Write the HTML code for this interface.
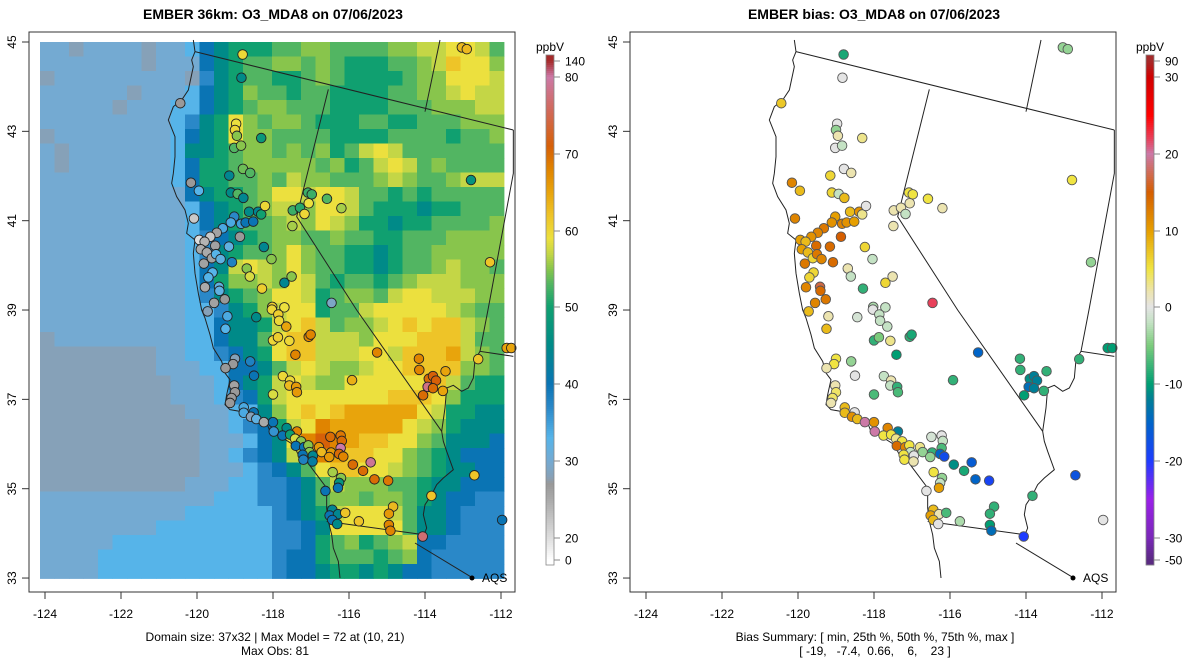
<!DOCTYPE html>
<html><head><meta charset="utf-8"><style>
html,body{margin:0;padding:0;background:#fff;}
svg{display:block;font-family:"Liberation Sans",Arial,sans-serif;}
</style></head><body>
<svg id="chart" width="1200" height="672" viewBox="0 0 1200 672" xmlns="http://www.w3.org/2000/svg">
<rect width="1200" height="672" fill="#fff"/>
<g id="left-grid"></g>
<g id="left-lines" transform="translate(38,40) scale(0.333333)" fill="none" stroke="#222"></g>
<g id="right-lines" transform="translate(639,40) scale(0.333333)" fill="none" stroke="#222"></g>
<g id="left-pts"></g>
<g id="right-pts"></g>
<g id="axes"></g>
<text x="273" y="19" text-anchor="middle" font-size="14" font-weight="bold">EMBER 36km: O3_MDA8 on 07/06/2023</text>
<text x="874" y="19" text-anchor="middle" font-size="14" font-weight="bold">EMBER bias: O3_MDA8 on 07/06/2023</text>
<text x="275" y="641" text-anchor="middle" font-size="12">Domain size: 37x32 | Max Model = 72 at (10, 21)</text>
<text x="275" y="655" text-anchor="middle" font-size="12">Max Obs: 81</text>
<text x="875" y="641" text-anchor="middle" font-size="12">Bias Summary: [ min, 25th %, 50th %, 75th %, max ]</text>
<text x="875" y="655" text-anchor="middle" font-size="12" xml:space="preserve">[ -19,   -7.4,  0.66,    6,    23 ]</text>
</svg>
<script>
const NS="http://www.w3.org/2000/svg";
// ---- data ----
const levelKeys="abcdefghijklmno";
const levelVals=[28,30,33,37,40,45,50,53,55,57,59,62,65,68,71];
const gridRows=[
"bbabbbbabbcefggghhiihhhhiijjkkjh",
"bbbbbbbabbbefghhiihihggghhijlkki",
"abbbbbbbbbadfghhgghihgggghiikkkj",
"bbbbbbabbbcefgihhghhgggghhiijkjj",
"bbbbbabbbccefghiihhhgggghhhiiijj",
"bbbbbbbbbcdfgkihiihggghhgghhhiii",
"abbbbbbbbcefgkiihhhhgggghhhhghhi",
"babbbbbbbcffghiihihighjkjhhhhhhh",
"babbbbbbbcegghiiiiihighjkjhihhhh",
"bbbbbbbbbcegghhihjiihhhijihhijjj",
"bbbbbbbbbbefgghikkjkkjhhghghhhhh",
"bbbbbbbbbbcefghijjikkjhgggfgghhh",
"bbbbbbbbbbcefghhijikjiggfgghhhhi",
"bbbbbbbbbbcdefghiihhihhgghhhiiii",
"bbbbbbbbbbcdfghhikihhggfghhiiiii",
"bbbbbbbbbbcefjkjikihhggfghhijiih",
"bbbbbbbbbbcegiijikjhghhghijjjiii",
"bbbbbbbbbbcdfghikkjghiihjkkjjjii",
"bbbbbbbbbbccdfgijkkghhjkkkkkjihh",
"bbbbbbbbbbcceffgjkljhiijklklljih",
"abbbbbbbbbcceffhklljjjikkkllljhh",
"aaaaaaaabbccdefgklljjjkkjlllmjih",
"aaaaaaaabbbcceefhjkjiijkklllliih",
"aaaaaaaaabbbcefgjkjiikkkkkkljhgg",
"aaaaaaaaabbbcdegjkkkkkkklllkiggg",
"aaaaaaaaaabbbccfiklklmmmmmkjggff",
"aaaaaaaaaaabbcdegjknmmmmmkjigfff",
"aaaaaaaaaaabbbcefknonmllkkihfffe",
"aaaaaaaaaaabbcdefjmnmllkkihgfeee",
"aaaaaaaaaaabbbcdefhkllkkjihgffee",
"aaaaaaaaaabbbccddefhjiiihhgffeee",
"bbbbbbbbbbbbcccddefhiihiihgfeedd",
"bbbbbbbbbbccccccdefgjkkkjhffeddd",
"bbbbbbbbccccccccddefkkkkkhffeddd",
"bbbbbcccccccccccddeghighijeedddd",
"bbbbccccccccccccdeeghhhghieddddd",
"bbbbccccccccccccdeefggfgfeeddddd"
];
const ptLon=[-118.80,-118.83,-120.44,-118.97,-119.00,-118.95,-119.02,-118.84,-118.31,-119.15,-118.79,-118.60,-120.16,-119.95,-119.11,-118.93,-118.78,-120.08,-119.02,-119.11,-118.84,-118.72,-118.52,-118.63,-118.39,-118.31,-118.21,-119.32,-119.48,-119.65,-119.94,-119.80,-119.52,-119.16,-118.87,-119.90,-119.74,-119.61,-119.50,-119.38,-119.82,-119.08,-119.59,-119.70,-119.79,-119.42,-119.41,-119.27,-119.55,-118.24,-118.04,-118.69,-118.61,-118.29,-117.70,-117.51,-118.02,-117.70,-116.46,-117.48,-117.29,-117.17,-117.49,-117.08,-116.98,-117.06,-116.58,-116.20,-112.79,-112.29,-113.03,-112.90,
-119.72,-119.20,-118.44,-118.03,-117.86,-117.84,-117.65,-119.25,-118.00,-117.87,-117.57,-117.06,-117.01,-117.41,-115.26,-119.00,-119.05,-119.25,-118.60,-118.50,-117.74,-117.55,-117.57,-117.39,-117.37,-118.00,-115.92,-119.02,-119.00,-119.09,-119.13,-118.77,-118.77,-118.51,-118.58,-118.44,-118.24,-118.00,-117.98,-117.64,-117.37,-117.75,-117.55,-117.42,-117.26,-117.40,-117.18,-117.07,-117.04,-117.22,-116.95,-117.20,-116.96,-116.79,-116.72,-116.49,-116.22,-116.19,-116.22,-116.47,-116.52,-116.26,-116.15,-115.90,-115.43,-115.63,-115.33,-114.97,-116.43,-116.21,-116.26,-116.29,-116.62,-116.44,-116.51,-116.29,-116.44,-116.31,-116.10,-115.74,-114.84,-114.95,-114.95,-114.91,-114.06,-113.83,-112.70,-111.97,-114.16,-114.15,-113.46,-113.90,-113.79,-113.71,-113.93,-113.79,-113.53,-114.05,-112.60,-111.85,-111.73];
const ptLat=[44.72,44.20,43.63,43.17,43.03,42.90,42.63,42.68,42.85,42.01,42.16,42.07,41.85,41.67,41.63,41.60,41.51,41.05,41.09,40.96,40.93,40.96,40.98,41.20,41.20,41.14,41.33,40.83,40.73,40.64,40.57,40.53,40.44,40.42,40.64,40.36,40.29,40.16,40.25,40.14,40.04,40.07,39.84,39.73,39.51,39.52,39.43,39.24,39.16,40.41,40.14,39.93,39.75,39.48,39.61,39.75,39.07,39.06,39.16,41.23,41.29,41.15,40.88,41.63,41.59,41.39,41.49,41.28,41.91,40.07,44.88,44.84,
38.97,38.86,38.84,39.01,38.90,38.76,38.63,38.58,38.32,38.39,38.31,38.40,38.45,38.00,38.05,37.91,37.79,37.70,37.85,37.53,37.52,37.42,37.31,37.28,37.16,37.11,37.43,37.31,37.16,37.03,36.92,36.82,36.70,36.71,36.61,36.56,36.49,36.49,36.28,36.36,36.28,36.19,36.21,36.12,36.06,35.96,35.93,35.97,35.82,35.76,35.74,35.65,35.61,35.93,35.82,36.16,36.19,36.07,35.91,35.81,35.71,35.78,35.72,35.54,35.59,35.40,35.21,35.18,35.37,35.24,35.13,35.02,34.95,34.53,34.40,34.43,34.30,34.21,34.46,34.27,34.60,34.44,34.19,34.06,33.93,34.84,35.30,34.30,37.91,37.66,37.63,37.46,37.52,37.42,37.28,37.25,37.19,37.09,37.90,38.15,38.15];
const ptObs=[60,45,27,59,60,55,53,55,48,44,54,53,27,33,45,53,44,22,37,34,35,40,40,45,44,50,60,34,26,22,20,24,26,32,27,25,25,26,33,32,26,38,33,33,25,32,32,27,26,44,55,55,58,61,44,55,61,59,29,52,51,60,56,52,52,59,53,56,47,62,63,63,
28,34,45,60,61,60,65,33,60,61,60,68,68,68,68,28,27,27,38,40,60,60,63,66,66,58,64,26,27,27,27,34,34,40,28,32,25,40,36,45,68,40,50,58,55,40,40,55,55,40,44,38,42,66,63,70,69,70,80,66,66,70,68,70,79,70,70,69,56,55,47,40,40,44,40,44,40,45,62,62,63,66,68,68,77,62,62,40,68,68,65,70,71,71,78,70,65,70,62,65,65];
const ptBias=[-9,0,7,0,-4,2,0,-2,3,6,0,2,12,8,6,-2,8,12,10,11,12,11,10,8,11,3,0,13,12,11,10,8,14,14,15,10,8,6,13,12,13,14,6,6,12,17,14,13,12,6,-2,2,-2,-8,6,2,-3,-2,22,2,2,-2,2,5,5,2,5,2,5,-4,-4,-4,
8,2,-1,0,-2,-2,-2,8,-8,-5,3,-8,-9,-10,-15,5,5,2,-4,0,-2,2,-2,-8,-7,-7,-8,2,4,4,2,8,8,0,11,8,20,11,20,12,-12,5,5,3,5,14,12,5,-2,5,0,5,2,3,-4,-1,0,-2,-7,-8,-4,-15,-18,-11,-16,-9,-15,-19,5,-4,-2,10,0,8,10,2,8,0,-7,-3,-8,-8,-10,-14,-20,-8,-17,0,-8,-8,-8,-11,-12,-12,-14,-12,-8,-10,-8,-10,-10];
const latTicks=[45,43,41,39,37,35,33];
const lonTicks=[-124,-122,-120,-118,-116,-114,-112];
const obsBarVals=[0,20,30,40,50,60,70,80,140];
const obsBarLabels=["0","20","30","40","50","60","70","80","140"];
const biasBarVals=[-50,-30,-20,-10,0,10,20,30,90];
const biasBarLabels=["-50","-30","-20","-10","0","10","20","30","90"];
// ---- colour maps ----
const obsStops=[[0,'#ffffff'],[20,'#dedede'],[25,'#aaaaaa'],[27,'#999999'],[28,'#86a1b8'],[30,'#74aad2'],[33,'#56b4e9'],[37,'#2a88c8'],[40,'#0a74b4'],[45,'#008a88'],[50,'#10a070'],[53,'#52b562'],[55,'#88c54c'],[57,'#c4d646'],[59,'#ece03e'],[62,'#eec428'],[65,'#e8a40c'],[68,'#e08400'],[71,'#d66008'],[76,'#d06a60'],[80,'#cc79a7'],[140,'#a52a2a']];
const biasStops=[[-50,'#5a2a82'],[-30,'#7a28b8'],[-25,'#9a20e8'],[-20,'#1e3cff'],[-15,'#0064c8'],[-12,'#007e96'],[-10,'#009e73'],[-5,'#7ccc7c'],[-2,'#c4e2c4'],[0,'#e4e4e4'],[2,'#ece4b0'],[5,'#f0e442'],[10,'#e69f00'],[15,'#d55e00'],[20,'#cc79a7'],[22,'#e8405a'],[25,'#ff0000'],[30,'#d00000'],[90,'#a52a2a']];
function hex(c){return [parseInt(c.slice(1,3),16),parseInt(c.slice(3,5),16),parseInt(c.slice(5,7),16)];}
function cmap(stops,v){
  if(v<=stops[0][0])return stops[0][1];
  for(let i=1;i<stops.length;i++){if(v<=stops[i][0]){const a=hex(stops[i-1][1]),b=hex(stops[i][1]);const t=(v-stops[i-1][0])/(stops[i][0]-stops[i-1][0]);return 'rgb('+a.map((x,k)=>Math.round(x+(b[k]-x)*t)).join(',')+')';}}
  return stops[stops.length-1][1];
}
// ---- scales ----
const RIGHT_OFF=601;
function px(lon,off){return off+45+(lon+124)*38;}
function py(lat){return 42+(45-lat)*44.67;}
function gx(c){return 40+c*14.5;}
function gy(r){return 42+r*14.5;}
const barYKnots=[560,538,461,384,307,231,154,77,61];
function barY(i){return barYKnots[i];}
function mk(tag,attrs,parent){const e=document.createElementNS(NS,tag);for(const k in attrs)e.setAttribute(k,attrs[k]);parent.appendChild(e);return e;}
// ---- heatmap ----
const G=document.getElementById('left-grid');
gridRows.forEach((row,r)=>{
  const s=row.replace(/ /g,'');
  for(let c=0;c<32&&c<s.length;c++){
    const v=levelVals[levelKeys.indexOf(s[c])];
    const e=mk('rect',{x:gx(c),y:gy(r),width:14.9,height:14.9,fill:cmap(obsStops,v)},G);
    
    
  }
});
// ---- borders (geometry in zoom frame) ----
const coast="M466,0 L471,35 L461,60 L466,80 L451,150 L431,180 L406,200 L391,240 L411,290 L411,350 L406,400 L401,430 L416,470 L441,510 L451,550 L446,580 L471,600 L466,640 L471,700 L481,760 L491,810 L501,834 L516,884 L526,924 L551,964 L561,999 L576,1019 L566,1064 L561,1094 L576,1109 L606,1114 L646,1134 L686,1149 L696,1174 L726,1189 L766,1214 L781,1244 L806,1264 L836,1304 L866,1344 L866,1404 L871,1444 L881,1484 L886,1524 L901,1564 L906,1614";
const borders=["M471,35 L1426,270","M1206,0 L1161,215","M871,148 L776,530 L956,810 L1211,1174","M1211,1174 L1216,1204 L1226,1234 L1246,1289 L1216,1314 L1196,1334 L1181,1364 L1161,1394 L1156,1424 L1166,1464 L1156,1489","M866,1444 L1156,1484","M1131,1509 L1301,1612","M1426,270 L1426,400 L1351,804 L1326,934 L1426,949","M1326,934 L1311,959 L1306,1014 L1291,1044 L1271,1054 L1246,1036 L1226,1044 L1221,1104 L1211,1174"];
['left-lines','right-lines'].forEach(id=>{
  const g=document.getElementById(id);
  const c=mk('path',{d:coast,'stroke-width':1,'vector-effect':'non-scaling-stroke'},g);
  
  
  borders.forEach(d=>{const b=mk('path',{d:d,'stroke-width':1,'vector-effect':'non-scaling-stroke'},g);
    
    });
});
// ---- points ----
const LP=document.getElementById('left-pts'),RP=document.getElementById('right-pts');
for(let i=0;i<ptLon.length;i++){
  const a=mk('circle',{cx:px(ptLon[i],0),cy:py(ptLat[i]),r:4.8,fill:cmap(obsStops,ptObs[i]),stroke:'#222','stroke-width':0.9},LP);
  
  
  const b=mk('circle',{cx:px(ptLon[i],RIGHT_OFF),cy:py(ptLat[i]),r:4.8,fill:cmap(biasStops,ptBias[i]),stroke:'#555','stroke-width':0.9},RP);
  
  
}
// ---- axes ----
const A=document.getElementById('axes');
[0,RIGHT_OFF].forEach(off=>{
  const box=mk('rect',{x:off+29,y:32,width:486,height:560,fill:'none',stroke:'#333','stroke-width':1},A);
  
  
  latTicks.forEach(l=>{const y=py(l);
    mk('line',{x1:off+22,x2:off+29,y1:y,y2:y,stroke:'#333'},A);
    const t=mk('text',{x:off+16,y:y,'font-size':12,'text-anchor':'middle',transform:`rotate(-90 ${off+16} ${y})`},A);
    t.textContent=l;
    
    });
  lonTicks.forEach(l=>{const x=px(l,off);
    mk('line',{x1:x,x2:x,y1:592,y2:599,stroke:'#333'},A);
    const t=mk('text',{x:x,y:618,'font-size':12,'text-anchor':'middle'},A);
    t.textContent=l;
    
    });
  mk('circle',{cx:off+472,cy:578,r:2.5,fill:'#000'},A);
  const q=mk('text',{x:off+482,y:582,'font-size':12},A);q.textContent='AQS';
  
  
});
// ---- colour bars ----
function bar(x,vals,labels,stops){
  const g=mk('g',{},A);
  
  
  const n=vals.length;
  for(let y=55;y<565;y+=2){
    const yy=Math.min(Math.max(y+1,61),560);
    let v=vals[n-1];
    for(let i=0;i<n-1;i++){const y0=barY(i),y1=barY(i+1);if(yy<=y0&&yy>=y1){v=vals[i]+(vals[i+1]-vals[i])*(y0-yy)/(y0-y1);break;}}
    mk('rect',{x:x,y:y,width:8,height:2.3,fill:cmap(stops,v)},g);
  }
  mk('rect',{x:x,y:55,width:8,height:510,fill:'none',stroke:'#888','stroke-width':0.8},g);
  labels.forEach((lb,i)=>{const y=barY(i);
    mk('line',{x1:x+8,x2:x+14,y1:y,y2:y,stroke:'#888'},g);
    const t=mk('text',{x:x+19,y:y+4.5,'font-size':12},g);t.textContent=lb;
    
    });
  const u=mk('text',{x:x+4,y:51,'font-size':12,'text-anchor':'middle'},g);u.textContent='ppbV';
  
  
}
bar(546,obsBarVals,obsBarLabels,obsStops);
bar(1146,biasBarVals,biasBarLabels,biasStops);
</script>
</body></html>
